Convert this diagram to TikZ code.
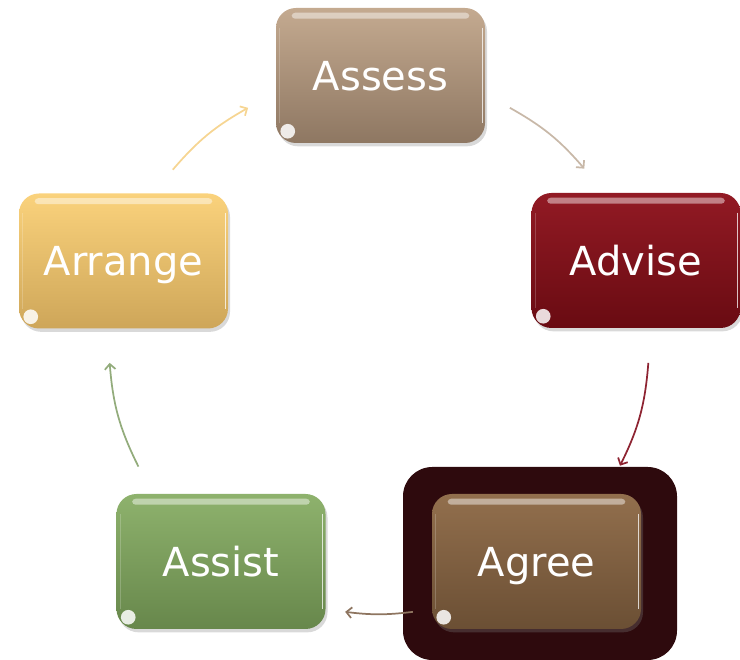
\documentclass[tikz,border=0pt]{standalone}
\usepackage{fontspec}
\setmainfont{DejaVu Sans}
\usetikzlibrary{calc,arrows.meta,shadows}
\definecolor{assT}{HTML}{C4AA90}\definecolor{assB}{HTML}{8E7762}
\definecolor{advT}{HTML}{921A24}\definecolor{advB}{HTML}{690B12}
\definecolor{agrT}{HTML}{926F4D}\definecolor{agrB}{HTML}{6B4F34}
\definecolor{asiT}{HTML}{8EB26D}\definecolor{asiB}{HTML}{67874B}
\definecolor{arrT}{HTML}{FAD27C}\definecolor{arrB}{HTML}{CEA659}
\definecolor{framecol}{HTML}{2E0A0D}
\definecolor{c1}{HTML}{C8B8A8}\definecolor{c2}{HTML}{8E2432}
\definecolor{c3}{HTML}{8E7560}\definecolor{c4}{HTML}{93AC7C}
\definecolor{c5}{HTML}{F6D592}
\newcommand\boxgloss[1]{%
  \fill[white,opacity=0.45,rounded corners=2.5pt] ($(#1.north west)+(16,-5)$) rectangle ($(#1.north east)+(-16,-11)$);
  \draw[white,opacity=0.75,line width=1pt] ($(#1.north east)+(-3,-20)$) -- ($(#1.south east)+(-3,20)$);
  \draw[white,opacity=0.2,line width=1pt] ($(#1.north west)+(4,-20)$) -- ($(#1.south west)+(4,20)$);
  \fill[white,opacity=0.85] ($(#1.south west)+(12,12)$) circle[radius=5.5pt];
}
\begin{document}
\begin{tikzpicture}[x=0.75pt,y=0.75pt,
  box/.style={rounded corners=15pt, minimum width=156.75pt, minimum height=101.25pt,
    inner sep=0pt, text=white, font=\fontsize{30}{35}\selectfont,
    text height=21.8pt, text depth=0pt,
    drop shadow={opacity=0.3,shadow xshift=1.5pt,shadow yshift=-2.5pt}},
  conn/.style={line width=1.3pt, -{Straight Barb[length=4pt,width=8pt]}},
]
\useasboundingbox (0,0) rectangle (740,660);
\node[fill=framecol, rounded corners=22pt, minimum width=205.5pt, minimum height=144.75pt, inner sep=0pt] (agreeframe) at (540,96.5) {};
\node[box, top color=assT, bottom color=assB] (assess) at (380.5,584.5) {Assess};
\node[box, top color=advT, bottom color=advB] (advise) at (636,399.5) {Advise};
\node[box, top color=agrT, bottom color=agrB] (agree) at (536.5,98.5) {Agree};
\node[box, top color=asiT, bottom color=asiB] (assist) at (221,98.5) {Assist};
\node[box, top color=arrT, bottom color=arrB] (arrange) at (123.5,399) {Arrange};
\foreach \n in {assess,advise,agree,assist,arrange}{\boxgloss{\n}}
\coordinate (c) at (379,316);
\coordinate (s1) at ($(c)+(61:270)$);   \coordinate (e1) at ($(c)+(40.5:270)$);
\coordinate (s2) at ($(c)+(-4:270)$);   \coordinate (e2) at ($(c)+(-26.8:270)$);
\coordinate (s3) at ($(c)+(-82.8:270)$);\coordinate (e3) at ($(c)+(-97.2:270)$);
\coordinate (s4) at ($(c)+(-153:270)$); \coordinate (e4) at ($(c)+(-176:270)$);
\coordinate (s5) at ($(c)+(139.8:270)$);\coordinate (e5) at ($(c)+(119:270)$);
\draw[conn,c1] (s1) to[bend left=10] (e1);
\draw[conn,c2] (s2) to[bend left=11] (e2);
\draw[conn,c3] (s3) to[bend left=7] (e3);
\draw[conn,c4] (s4) to[bend left=11] (e4);
\draw[conn,c5] (s5) to[bend left=10] (e5);
\end{tikzpicture}
\end{document}
